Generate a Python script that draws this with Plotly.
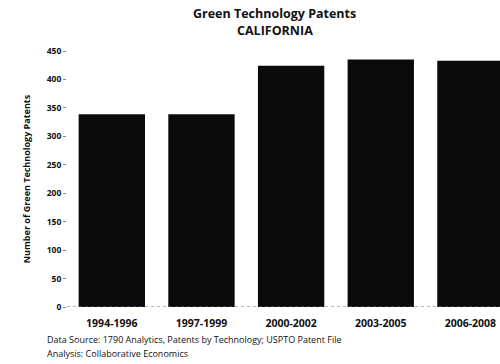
import plotly.graph_objects as go

categories = ["1994-1996", "1997-1999", "2000-2002", "2003-2005", "2006-2008"]
patents = [339, 339, 424, 435, 433]
y_ticks = [0, 50, 100, 150, 200, 250, 300, 350, 400, 450]

fig = go.Figure()
fig.add_trace(go.Bar(x=categories, y=patents, marker=dict(color="#0a0a0a", line=dict(width=0))))

fig.update_layout(
    width=500, height=364,
    margin=dict(l=67, r=0, t=51, b=57),
    paper_bgcolor="white", plot_bgcolor="white",
    bargap=0.26,
    showlegend=False,
    font=dict(family="Open Sans", color="#111"),
)
fig.update_xaxes(range=[-0.5, 4.33], showgrid=False, showline=False,
                 tickfont=dict(size=10.5, family="Open Sans", color="#111", weight="bold"),
                 ticks="", ticklabelstandoff=8)
fig.update_yaxes(range=[0, 450], tickvals=y_ticks, showgrid=False, zeroline=False,
                 ticks="outside", ticklen=3, tickcolor="#888",
                 tickfont=dict(size=8.5, family="Open Sans", color="#111", weight="bold"),
                 title=dict(text="<b>Number of Green Technology Patents</b>",
                            font=dict(size=9, family="Open Sans", color="#111"), standoff=14))
fig.add_shape(type="line", xref="paper", yref="y", x0=0, x1=1, y0=0, y1=0,
              line=dict(color="#777", width=1, dash="dot"))
fig.add_annotation(text="<b>Green Technology Patents</b>", xref="paper", yref="paper",
                   x=0.48, y=1.148, xanchor="center", yanchor="middle", showarrow=False,
                   font=dict(size=12.5, family="Open Sans", color="#111"))
fig.add_annotation(text="<b>CALIFORNIA</b>", xref="paper", yref="paper",
                   x=0.48, y=1.082, xanchor="center", yanchor="middle", showarrow=False,
                   font=dict(size=12.5, family="Open Sans", color="#111"))
fig.add_annotation(text="Data Source: 1790 Analytics, Patents by Technology; USPTO Patent File",
                   xref="paper", yref="paper", x=-0.05, y=-0.125, xanchor="left", yanchor="middle",
                   showarrow=False, font=dict(size=9, family="Open Sans", color="#111"))
fig.add_annotation(text="Analysis: Collaborative Economics",
                   xref="paper", yref="paper", x=-0.05, y=-0.18, xanchor="left", yanchor="middle",
                   showarrow=False, font=dict(size=9, family="Open Sans", color="#111"))
fig.write_html("out.html")
